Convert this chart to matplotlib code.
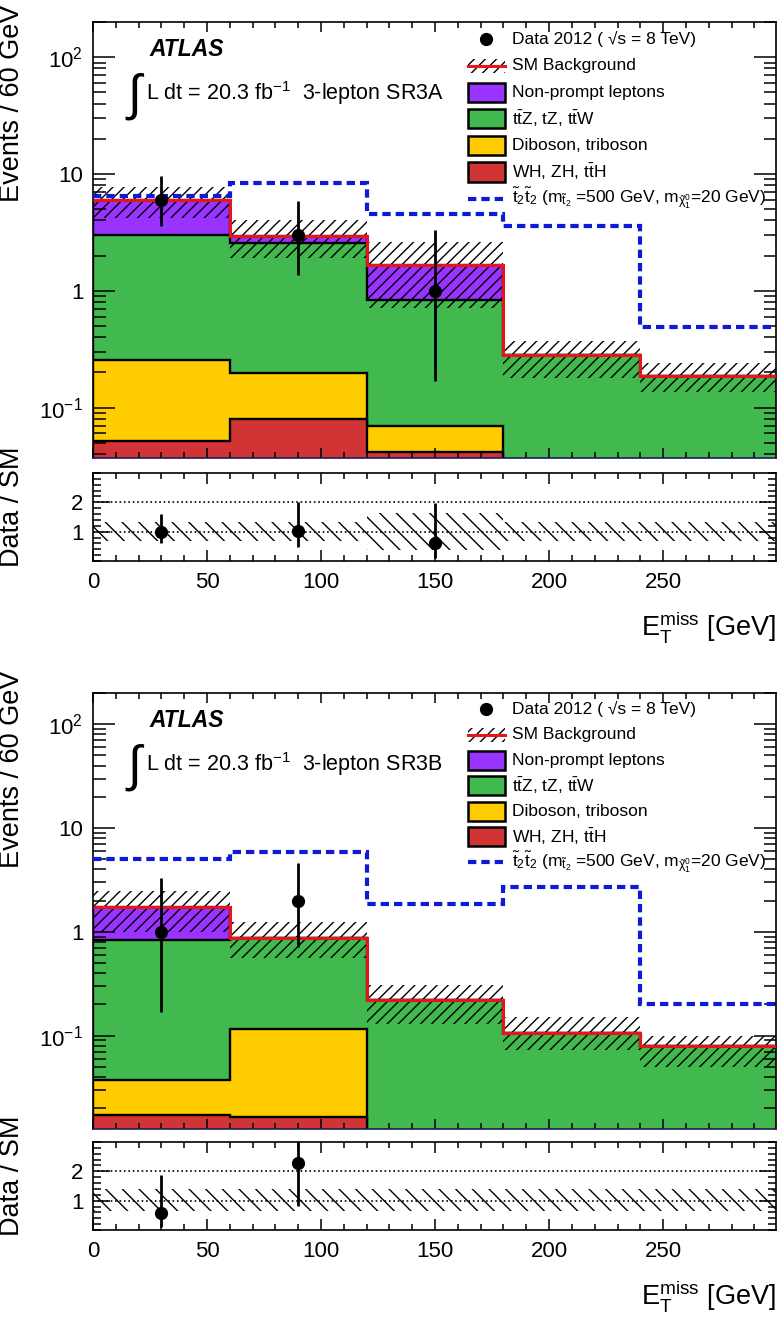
import numpy as np
import matplotlib
matplotlib.use("Agg")
import matplotlib.pyplot as plt
from matplotlib.patches import Rectangle
from matplotlib.lines import Line2D
from matplotlib.ticker import LogLocator, NullFormatter, MultipleLocator

plt.rcParams["font.family"] = ["Liberation Sans", "DejaVu Sans"]
plt.rcParams["mathtext.fontset"] = "custom"
plt.rcParams["mathtext.rm"] = "Liberation Sans"
plt.rcParams["mathtext.it"] = "Liberation Sans:italic"
plt.rcParams["mathtext.bf"] = "Liberation Sans:bold"
plt.rcParams["mathtext.default"] = "regular"
plt.rcParams["hatch.linewidth"] = 1.0

# E_T^miss binning [GeV]
edges = [0, 60, 120, 180, 240, 300]

# ---- SR3A ----
wh_a = [0.052, 0.080, 0.042, 0.0, 0.0]
dib_a = [0.204, 0.117, 0.028, 0.0, 0.0]
ttv_a = [2.74, 2.36, 0.77, 0.28, 0.187]
fake_a = [3.0, 0.39, 0.83, 0.0, 0.0]
sm_lo_a = [4.2, 1.9, 0.71, 0.18, 0.137]
sm_hi_a = [7.7, 4.0, 2.6, 0.37, 0.24]
sig_a = [6.5, 8.3, 4.5, 3.6, 0.49]
data_x_a = [30, 90, 150]
data_a = [6, 3, 1]
data_lo_a = [3.6, 1.37, 0.17]
data_hi_a = [9.6, 5.9, 3.3]
ratio_a = [1.0, 1.02, 0.6]
ratio_lo_a = [0.60, 0.47, 0.10]
ratio_hi_a = [1.60, 2.0, 1.98]
band_lo_a = [0.67, 0.67, 0.38, 0.67, 0.67]
band_hi_a = [1.33, 1.33, 1.62, 1.33, 1.33]

# ---- SR3B ----
wh_b = [0.017, 0.0165, 0.0, 0.0, 0.0]
dib_b = [0.020, 0.0995, 0.0, 0.0, 0.0]
ttv_b = [0.803, 0.764, 0.22, 0.105, 0.080]
fake_b = [0.91, 0.0, 0.0, 0.0, 0.0]
sm_lo_b = [1.0, 0.56, 0.13, 0.072, 0.05]
sm_hi_b = [2.45, 1.25, 0.31, 0.15, 0.10]
sig_b = [5.0, 5.9, 1.85, 2.7, 0.20]
data_x_b = [30, 90]
data_b = [1, 2]
data_lo_b = [0.17, 0.71]
data_hi_b = [3.3, 4.6]
ratio_b = [0.57, 2.27]
ratio_lo_b = [0.10, 0.81]
ratio_hi_b = [1.89, 5.3]
band_lo_b = [0.64, 0.64, 0.64, 0.64, 0.64]
band_hi_b = [1.41, 1.41, 1.41, 1.41, 1.41]

c_fake = "#9933ff"
c_ttv = "#41b94f"
c_dib = "#ffcc00"
c_wh = "#d03434"
c_red = "#e8141c"
c_blue = "#0d1ad6"
sig_ls = (0, (2.0, 1.2))

leg_labels = [
    "Data 2012 ( \u221as = 8 TeV)",
    "SM Background",
    "Non-prompt leptons",
    "t$\\bar{t}$Z, tZ, t$\\bar{t}$W",
    "Diboson, triboson",
    "WH, ZH, t$\\bar{t}$H",
    "$\\tilde{t}_2\\tilde{t}_2$ (m$_{\\tilde{t}_2}$ =500 GeV, m$_{\\tilde{\\chi}^0_1}$=20 GeV)",
]


def style_axes(ax):
    # range stops just short of 300 so that no "300" label is drawn
    ax.set_xlim(0, 299.5)
    ax.xaxis.set_major_locator(MultipleLocator(50))
    ax.xaxis.set_minor_locator(MultipleLocator(10))
    ax.tick_params(which="both", direction="in", top=True, right=True, width=1.1,
                   labelsize=16)
    for s in ax.spines.values():
        s.set_linewidth(1.2)


def draw_main(ax, wh, dib, ttv, fake, sm_lo, sm_hi, sig, dx, dn, dlo, dhi, ymin):
    cum = np.cumsum(np.array([wh, dib, ttv, fake], float), axis=0)
    cols = [c_wh, c_dib, c_ttv, c_fake]
    for vals, col in reversed(list(zip(cum, cols))):
        ax.stairs(vals, edges, baseline=1e-5, fill=True, facecolor=col,
                  edgecolor="black", linewidth=1.7, zorder=1)
    ax.stairs(sm_hi, edges, baseline=sm_lo, fill=True, facecolor="none",
              edgecolor="black", linewidth=0, hatch="///", zorder=2)
    ax.stairs(cum[-1], edges, baseline=None, color=c_red, linewidth=2.2, zorder=3)
    ax.stairs(sig, edges, baseline=None, color=c_blue, linewidth=3.0,
              linestyle=sig_ls, zorder=3)
    dn = np.array(dn, float)
    ax.errorbar(dx, dn, yerr=[dn - np.array(dlo), np.array(dhi) - dn], fmt="o",
                color="black", ms=8.5, elinewidth=2, capsize=0, zorder=5)
    ax.set_yscale("log")
    ax.set_ylim(ymin, 200)
    style_axes(ax)
    ax.set_yticks([0.1, 1, 10, 100], labels=["$10^{-1}$", "1", "10", "$10^{2}$"])
    ax.yaxis.set_minor_locator(LogLocator(base=10, subs=np.arange(2, 10)))
    ax.yaxis.set_minor_formatter(NullFormatter())
    ax.tick_params(axis="y", which="major", length=16, pad=7)
    ax.tick_params(axis="y", which="minor", length=9)
    ax.tick_params(axis="x", which="major", length=7)
    ax.tick_params(axis="x", which="minor", length=4)
    ax.tick_params(axis="x", labelbottom=False)
    ax.spines["bottom"].set_color("#1c1c5c")


def draw_ratio(ax, band_lo, band_hi, dx, r, rlo, rhi):
    ax.stairs(band_hi, edges, baseline=band_lo, fill=True, facecolor="none",
              edgecolor="black", linewidth=0, hatch="\\\\", zorder=1)
    ax.axhline(1, color="black", linestyle=":", linewidth=1.2, zorder=2)
    ax.axhline(2, color="black", linestyle=":", linewidth=1.2, zorder=2)
    r = np.array(r, float)
    ax.errorbar(dx, r, yerr=[r - np.array(rlo), np.array(rhi) - r], fmt="o",
                color="black", ms=8.5, elinewidth=2, capsize=0, zorder=5)
    ax.set_ylim(0, 3)
    style_axes(ax)
    ax.set_yticks([1, 2])
    ax.yaxis.set_minor_locator(MultipleLocator(0.2))
    ax.tick_params(axis="y", which="major", length=12, pad=7)
    ax.tick_params(axis="y", which="minor", length=6)
    ax.tick_params(axis="x", which="major", length=8, pad=8)
    ax.tick_params(axis="x", which="minor", length=4)
    ax.text(1.0, -0.75, "E$_T^{miss}$ [GeV]", transform=ax.transAxes,
            ha="right", va="center", fontsize=19.5)


def draw_legend(ax, top, step):
    x0, x1, xt = 0.549, 0.603, 0.613
    h = 0.044
    xm = 0.5 * (x0 + x1)
    for i, lab in enumerate(leg_labels):
        y = top - i * step
        if i == 0:
            ax.plot([xm], [y], "o", color="black", ms=8.5, transform=ax.transAxes,
                    clip_on=False)
        elif i == 1:
            ax.add_patch(Rectangle((x0, y - 0.016), x1 - x0, 0.032, transform=ax.transAxes,
                                   facecolor="none", edgecolor="black", linewidth=0,
                                   hatch="///"))
            ax.add_line(Line2D([x0, x1], [y, y], color=c_red, linewidth=2.2,
                               transform=ax.transAxes))
        elif i < 6:
            col = [c_fake, c_ttv, c_dib, c_wh][i - 2]
            ax.add_patch(Rectangle((x0, y - h / 2), x1 - x0, h, transform=ax.transAxes,
                                   facecolor=col, edgecolor="black", linewidth=1.8))
        else:
            ax.add_line(Line2D([x0, x1], [y, y], color=c_blue, linewidth=3.0,
                               linestyle=sig_ls, transform=ax.transAxes))
        ax.text(xt, y, lab, transform=ax.transAxes, ha="left", va="center", fontsize=12.5)


def draw_labels(ax, region):
    ax.text(0.082, 0.938, "ATLAS", transform=ax.transAxes, fontsize=16.5,
            fontweight="bold", fontstyle="italic", va="center")
    ax.text(0.050, 0.830, "\u222b", transform=ax.transAxes, fontsize=36,
            va="center", family=["Liberation Sans", "DejaVu Sans"])
    ax.text(0.077, 0.837, "L dt = 20.3 fb$^{-1}$  3-lepton " + region,
            transform=ax.transAxes, fontsize=15.5, va="center")


fig = plt.figure(figsize=(7.78, 13.2), dpi=100)
left, width = 93 / 778, 683 / 778
ax1 = fig.add_axes([left, 1 - 458 / 1320, width, 436 / 1320])
ax1r = fig.add_axes([left, 1 - 561 / 1320, width, 88 / 1320])
ax2 = fig.add_axes([left, 1 - 1129 / 1320, width, 436 / 1320])
ax2r = fig.add_axes([left, 1 - 1230 / 1320, width, 88 / 1320])

draw_main(ax1, wh_a, dib_a, ttv_a, fake_a, sm_lo_a, sm_hi_a, sig_a,
          data_x_a, data_a, data_lo_a, data_hi_a, 0.037)
draw_ratio(ax1r, band_lo_a, band_hi_a, data_x_a, ratio_a, ratio_lo_a, ratio_hi_a)
draw_legend(ax1, 0.961, 0.061)
draw_labels(ax1, "SR3A")

draw_main(ax2, wh_b, dib_b, ttv_b, fake_b, sm_lo_b, sm_hi_b, sig_b,
          data_x_b, data_b, data_lo_b, data_hi_b, 0.0126)
draw_ratio(ax2r, band_lo_b, band_hi_b, data_x_b, ratio_b, ratio_lo_b, ratio_hi_b)
draw_legend(ax2, 0.963, 0.0585)
draw_labels(ax2, "SR3B")

fig.text(0.016, 1 - 5 / 1320, "Events / 60 GeV", rotation=90, ha="center", va="top",
         fontsize=19.5)
fig.text(0.016, 1 - 507 / 1320, "Data / SM", rotation=90, ha="center", va="center",
         fontsize=19.5)
fig.text(0.016, 1 - 670 / 1320, "Events / 60 GeV", rotation=90, ha="center", va="top",
         fontsize=19.5)
fig.text(0.016, 1 - 1176 / 1320, "Data / SM", rotation=90, ha="center", va="center",
         fontsize=19.5)

fig.savefig("out.png", dpi=100)
